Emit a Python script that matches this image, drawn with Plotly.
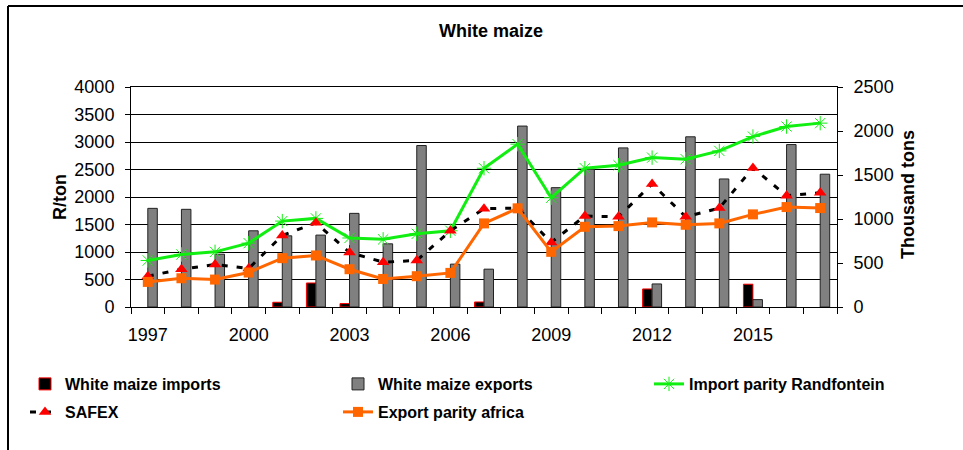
import plotly.graph_objects as go

years = list(range(1997, 2018))
tick_years = [1997, 2000, 2003, 2006, 2009, 2012, 2015]

# Thousand tons (right axis); None = no imports shown
imports = [None, None, None, None, 54, 273, 39, None, None, None, 57, None, None, None,
           None, 205, None, None, 259, None, None]
exports = [1121, 1110, 600, 866, 809, 817, 1064, 718, 1835, 487, 430, 2056, 1356, 1566,
           1808, 262, 1934, 1455, 84, 1846, 1509]

# R/ton (left axis)
import_parity = [846, 955, 1003, 1161, 1562, 1611, 1255, 1230, 1331, 1386, 2523, 2961, 1987,
                 2523, 2578, 2716, 2687, 2838, 3099, 3281, 3343]
safex = [560, 687, 773, 700, 1301, 1531, 991, 815, 846, 1386, 1787, 1800, 1174, 1653,
         1641, 2237, 1641, 1799, 2528, 2024, 2078]
export_parity = [456, 523, 499, 627, 888, 937, 687, 510, 560, 620, 1520, 1794, 1003, 1458,
                 1471, 1538, 1495, 1520, 1684, 1817, 1799]

FONT = "Liberation Sans, Arial, sans-serif"

# plot area in pixels
PX0, PX1, PY0, PY1 = 131, 837, 87, 307
PW, PH = PX1 - PX0, PY1 - PY0


def px_x(p):
    return (p - PX0) / PW


def px_y(p):
    return (PY1 - p) / PH


fig = go.Figure()
fig.add_trace(go.Bar(x=years, y=imports, name="White maize imports", yaxis="y",
                     marker=dict(color="black", line=dict(color="red", width=1)),
                     legend="legend"))
fig.add_trace(go.Bar(x=years, y=exports, name="White maize exports", yaxis="y",
                     marker=dict(color="#808080", line=dict(color="#222222", width=1)),
                     legend="legend2"))
fig.add_trace(go.Scatter(x=years, y=import_parity, name="Import parity Randfontein", yaxis="y2",
                         mode="lines+markers",
                         line=dict(color="#11EE11", width=3),
                         marker=dict(symbol="asterisk-open", size=12,
                                     line=dict(color="#11EE11", width=1)),
                         legend="legend3"))
fig.add_trace(go.Scatter(x=years, y=safex, name="SAFEX", yaxis="y2",
                         mode="lines+markers",
                         line=dict(color="black", width=3, dash="6px,9px"),
                         marker=dict(symbol="triangle-up", size=11, color="red"),
                         legend="legend4"))
fig.add_trace(go.Scatter(x=years, y=export_parity, name="Export parity africa", yaxis="y2",
                         mode="lines+markers",
                         line=dict(color="#FF6600", width=3),
                         marker=dict(symbol="square", size=10, color="#FF6600"),
                         legend="legend5"))

legend_common = dict(orientation="h", xref="paper", yref="paper",
                     xanchor="left", yanchor="middle",
                     font=dict(family=FONT, size=16, color="black", weight="bold"),
                     bgcolor="rgba(0,0,0,0)", itemwidth=30)

row1, row2 = 384, 412
col1, col2, col3 = 73 - 48, 386 - 48, 697 - 48

fig.update_layout(
    width=963, height=450,
    margin=dict(l=PX0, r=963 - PX1, t=PY0, b=450 - PY1, autoexpand=False),
    paper_bgcolor="white", plot_bgcolor="white",
    barmode="group", bargap=0.435, bargroupgap=0,
    font=dict(family=FONT, color="black"),
    title=dict(text="<b>White maize</b>", x=491/963, xref="container", xanchor="center",
               y=1-31/450, yref="container", yanchor="middle",
               font=dict(family=FONT, size=18, color="black")),
    xaxis=dict(range=[1996.5, 2017.5], tickvals=tick_years, ticks="",
               showline=True, linecolor="black", linewidth=1, mirror=True,
               showgrid=False, zeroline=False,
               tickfont=dict(family=FONT, size=18, color="black"), ticklabelstandoff=11,
               minor=dict(tick0=1996.5, dtick=1, ticks="outside", ticklen=6,
                          tickcolor="black", showgrid=False)),
    yaxis=dict(range=[0, 2500], dtick=500, side="right", showgrid=False, zeroline=False,
               showline=True, linecolor="black", linewidth=1,
               ticks="outside", ticklen=5, tickcolor="black", ticklabelstandoff=7,
               tickfont=dict(family=FONT, size=18, color="black")),
    yaxis2=dict(range=[0, 4000], dtick=500, side="left", overlaying="y",
                showgrid=True, gridcolor="black", gridwidth=1, zeroline=False,
                showline=True, linecolor="black", linewidth=1,
                ticks="outside", ticklen=5, tickcolor="black", ticklabelstandoff=7,
                tickfont=dict(family=FONT, size=18, color="black")),
    legend=dict(legend_common, x=px_x(col1), y=px_y(row1)),
    legend2=dict(legend_common, x=px_x(col2), y=px_y(row1)),
    legend3=dict(legend_common, x=px_x(col3), y=px_y(row1)),
    legend4=dict(legend_common, x=px_x(col1), y=px_y(row2)),
    legend5=dict(legend_common, x=px_x(col2), y=px_y(row2)),
    annotations=[
        dict(text="<b>R/ton</b>", textangle=-90, xref="paper", yref="paper",
             x=px_x(48), y=px_y(197), showarrow=False,
             font=dict(family=FONT, size=18, color="black")),
        dict(text="<b>Thousand tons</b>", textangle=-90, xref="paper", yref="paper",
             x=px_x(920), y=px_y(195), showarrow=False,
             font=dict(family=FONT, size=18, color="black")),
    ],
    shapes=[
        dict(type="line", xref="paper", yref="paper", x0=px_x(8), x1=px_x(8),
             y0=px_y(6), y1=px_y(452), line=dict(color="black", width=2)),
        dict(type="line", xref="paper", yref="paper", x0=px_x(8), x1=px_x(965),
             y0=px_y(6), y1=px_y(6), line=dict(color="black", width=2)),
    ],
    showlegend=True,
)

fig.write_html("out.html", config={"displayModeBar": False},
               post_script="document.body.style.margin='0px';document.body.style.padding='0px';")
